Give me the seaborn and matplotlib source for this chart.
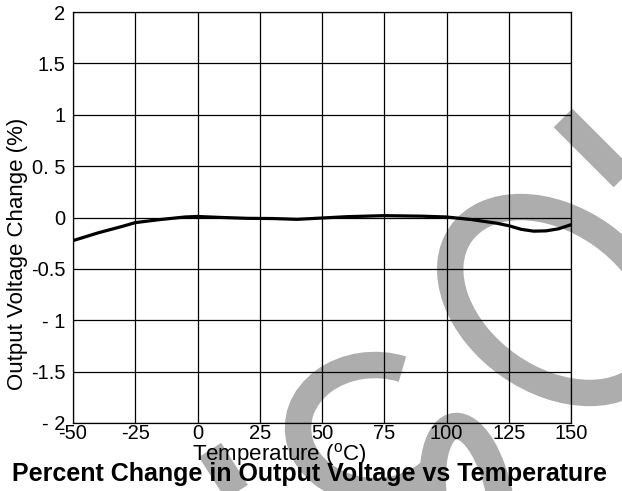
import numpy as np
import pandas as pd
import matplotlib
matplotlib.use('Agg')
import matplotlib.pyplot as plt
from matplotlib.patches import Arc
import seaborn as sns

# 数据
temps = [-50, -40, -30, -25, -15, -5, 0, 10, 20, 30, 40, 50, 60, 75, 90, 100,
         110, 120, 125, 130, 135, 140, 145, 150]
change = [-0.225, -0.15, -0.085, -0.05, -0.02, 0.005, 0.01, 0.0, -0.008, -0.01,
          -0.018, -0.005, 0.008, 0.018, 0.013, 0.005, -0.02, -0.055, -0.08,
          -0.115, -0.133, -0.13, -0.11, -0.07]
x_ticks = [-50, -25, 0, 25, 50, 75, 100, 125, 150]
y_ticks = [-2, -1.5, -1, -0.5, 0, 0.5, 1, 1.5, 2]
y_labels = ['- 2', '-1.5', '- 1', '-0.5', '0', '0. 5', '1', '1.5', '2']

df = pd.DataFrame({'temp': temps, 'change': change})

sns.set_style('white')
plt.rcParams['font.family'] = ['Liberation Sans', 'DejaVu Sans']
plt.rcParams['mathtext.fontset'] = 'custom'
plt.rcParams['mathtext.rm'] = 'Liberation Sans'
plt.rcParams['text.color'] = 'black'
plt.rcParams['axes.labelcolor'] = 'black'

W, H = 622, 491
fig = plt.figure(figsize=(W / 100, H / 100), dpi=100)
fig.patch.set_facecolor('white')

# 背景水印 (灰色笔画), 用像素坐标 (y 向下)
bg = fig.add_axes([0, 0, 1, 1])
bg.set_xlim(0, W)
bg.set_ylim(H, 0)
bg.axis('off')
wm = '#adadad'
sw = 19  # 笔画宽度 (pt)
bg.add_patch(Arc((555, 300), 230, 160, angle=35, color=wm, lw=sw))
bg.add_patch(Arc((375, 428), 154, 126, theta1=35, theta2=295, color=wm, lw=sw))
bg.add_patch(Arc((468, 505), 66, 160, angle=-10, theta1=190, theta2=360,
                 color=wm, lw=sw))
bg.plot([563, 650], [118, 205], color=wm, lw=sw, solid_capstyle='butt')
bg.plot([210, 245], [450, 505], color=wm, lw=sw, solid_capstyle='butt')

ax = fig.add_axes([73 / W, 1 - 423 / H, 498 / W, 411 / H])
ax.set_facecolor('none')

sns.lineplot(data=df, x='temp', y='change', ax=ax, color='black', lw=2.3)

ax.set_xlim(-50, 150)
ax.set_ylim(-2, 2)
ax.set_xticks(x_ticks)
ax.set_xticklabels([str(t) for t in x_ticks])
ax.set_yticks(y_ticks)
ax.set_yticklabels(y_labels)
ax.grid(True, color='black', lw=0.9)
for s in ax.spines.values():
    s.set_color('black')
    s.set_linewidth(0.9)
ax.tick_params(axis='both', length=0, labelsize=14.5, colors='black')
ax.tick_params(axis='x', pad=1)
ax.tick_params(axis='y', pad=5.5)
ax.set_xlabel('')
ax.set_ylabel('')

fig.text(279 / W, 1 - 460 / H, r'Temperature ($^{\rm o}$C)', ha='center',
         va='baseline', fontsize=16, color='black')
fig.text(18 / W, 1 - 254 / H, 'Output Voltage Change (%)', rotation=90,
         ha='center', va='center', fontsize=16, color='black')
fig.text(310 / W, 1 - 481 / H, 'Percent Change in Output Voltage vs Temperature',
         ha='center', va='baseline', fontsize=18, fontweight='bold', color='black')

fig.savefig('out.png', dpi=100)
